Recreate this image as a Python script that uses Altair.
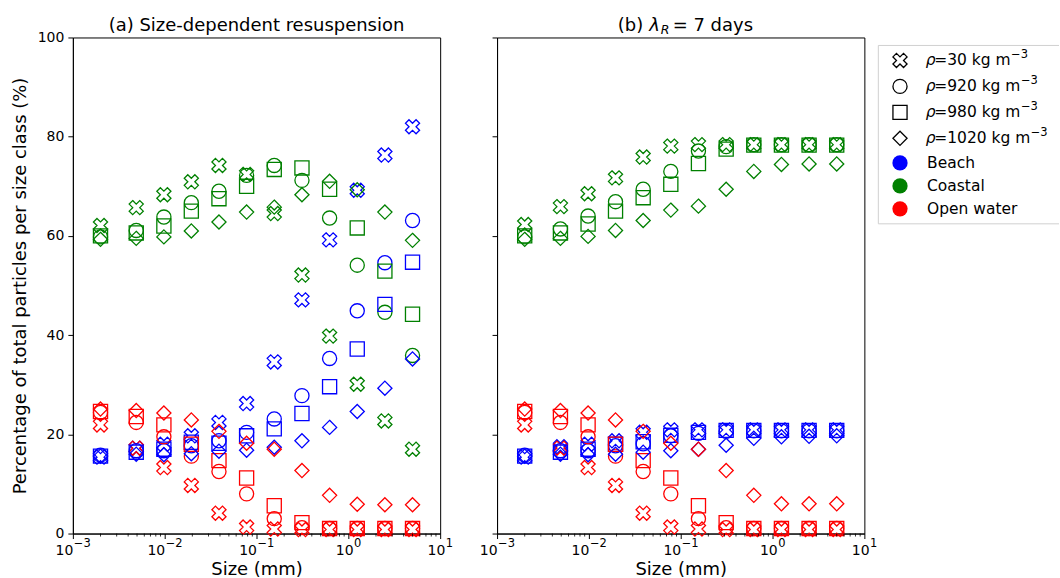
import altair as alt
import pandas as pd

# ---------------- data ----------------
sizes = [0.002, 0.0049, 0.0098, 0.0195, 0.039, 0.078, 0.156, 0.3125, 0.625, 1.25, 2.5, 5.0]
regions = ["Beach", "Coastal", "Open water"]
densities = ["30", "920", "980", "1020"]
region_colors = ["blue", "green", "red"]

# (a) Size-dependent resuspension
a_beach_30 = [15.4, 17.2, 18.0, 19.7, 22.4, 26.2, 34.6, 47.1, 59.2, 69.2, 76.3, 82.0]
a_beach_920 = [15.8, 16.7, 16.7, 17.7, 18.7, 20.4, 23.1, 27.8, 35.3, 44.9, 54.6, 63.1]
a_beach_980 = [15.6, 16.4, 17.0, 18.4, 18.2, 19.7, 21.1, 24.2, 29.6, 37.2, 46.2, 54.7]
a_beach_1020 = [15.6, 16.0, 15.9, 16.1, 16.6, 16.8, 17.4, 18.7, 21.4, 24.6, 29.3, 35.2]
a_coast_30 = [62.1, 65.7, 68.3, 70.9, 74.2, 72.4, 64.5, 52.1, 39.8, 30.1, 22.7, 17.0]
a_coast_920 = [59.8, 61.1, 63.8, 66.7, 69.0, 72.2, 74.2, 71.2, 63.6, 54.1, 44.6, 35.9]
a_coast_980 = [60.0, 60.6, 62.0, 65.0, 67.5, 70.0, 73.4, 73.7, 69.4, 61.6, 52.9, 44.2]
a_coast_1020 = [59.3, 59.5, 59.8, 61.0, 62.8, 64.8, 65.8, 68.3, 71.0, 69.3, 64.8, 59.1]
a_open_30 = [21.9, 17.2, 13.3, 9.7, 4.1, 1.3, 0.9, 0.8, 0.8, 0.8, 0.8, 0.8]
a_open_920 = [24.4, 22.4, 19.5, 15.6, 12.5, 8.0, 3.0, 1.2, 1.0, 1.0, 1.0, 1.0]
a_open_980 = [24.6, 23.6, 21.9, 18.0, 14.7, 11.2, 5.6, 2.2, 1.0, 1.0, 1.0, 1.0]
a_open_1020 = [25.1, 24.8, 24.3, 22.9, 20.6, 18.2, 17.0, 12.7, 7.7, 5.9, 5.8, 5.8]

# (b) lambda_R = 7 days
b_beach_30 = [15.4, 17.5, 18.0, 18.7, 20.4, 20.9, 20.9, 20.9, 20.9, 20.9, 20.9, 20.9]
b_beach_920 = [15.8, 16.7, 16.7, 17.7, 18.1, 19.7, 20.2, 20.6, 20.7, 20.7, 20.7, 20.7]
b_beach_980 = [15.6, 16.4, 17.0, 18.0, 18.5, 19.8, 20.4, 20.8, 20.8, 20.8, 20.8, 20.8]
b_beach_1020 = [15.6, 16.0, 15.9, 16.0, 16.4, 16.7, 17.0, 17.8, 19.2, 19.5, 19.6, 19.7]
b_coast_30 = [62.3, 65.9, 68.5, 71.7, 75.9, 78.1, 78.4, 78.4, 78.4, 78.4, 78.4, 78.4]
b_coast_920 = [59.8, 61.4, 64.0, 66.9, 69.4, 73.0, 77.1, 78.0, 78.4, 78.4, 78.4, 78.4]
b_coast_980 = [60.0, 60.6, 62.4, 65.0, 67.7, 70.4, 74.6, 77.5, 78.3, 78.3, 78.3, 78.3]
b_coast_1020 = [59.3, 59.5, 59.9, 61.1, 63.1, 65.2, 66.0, 69.4, 73.0, 74.4, 74.5, 74.5]
b_open_30 = [21.9, 17.2, 13.3, 9.7, 4.1, 1.3, 0.9, 0.8, 0.8, 0.8, 0.8, 0.8]
b_open_920 = [24.4, 22.4, 19.5, 15.6, 12.5, 8.0, 3.0, 1.2, 1.0, 1.0, 1.0, 1.0]
b_open_980 = [24.6, 23.6, 21.9, 18.0, 14.7, 11.2, 5.6, 2.2, 1.0, 1.0, 1.0, 1.0]
b_open_1020 = [25.1, 24.8, 24.3, 22.9, 20.6, 18.2, 17.0, 12.7, 7.7, 6.0, 6.0, 6.0]

# text pieces
legend_density_text = ["=30 kg m", "=920 kg m", "=980 kg m", "=1020 kg m"]
legend_sup = "\u22123"
title_a_text = "(a) Size-dependent resuspension"
y_title = "Percentage of total particles per size class (%)"
x_title = "Size (mm)"
major = [0.001, 0.01, 0.1, 1, 10]
major_sup = ["\u22123", "\u22122", "\u22121", "0", "1"]
y_ticks = [0, 20, 40, 60, 80, 100]

panel_a = {
    ("30", "Beach"): a_beach_30, ("30", "Coastal"): a_coast_30, ("30", "Open water"): a_open_30,
    ("920", "Beach"): a_beach_920, ("920", "Coastal"): a_coast_920, ("920", "Open water"): a_open_920,
    ("980", "Beach"): a_beach_980, ("980", "Coastal"): a_coast_980, ("980", "Open water"): a_open_980,
    ("1020", "Beach"): a_beach_1020, ("1020", "Coastal"): a_coast_1020, ("1020", "Open water"): a_open_1020,
}
panel_b = {
    ("30", "Beach"): b_beach_30, ("30", "Coastal"): b_coast_30, ("30", "Open water"): b_open_30,
    ("920", "Beach"): b_beach_920, ("920", "Coastal"): b_coast_920, ("920", "Open water"): b_open_920,
    ("980", "Beach"): b_beach_980, ("980", "Coastal"): b_coast_980, ("980", "Open water"): b_open_980,
    ("1020", "Beach"): b_beach_1020, ("1020", "Coastal"): b_coast_1020, ("1020", "Open water"): b_open_1020,
}

records = []
for pkey, table in (("a", panel_a), ("b", panel_b)):
    for (dens, region), vals in table.items():
        for s, v in zip(sizes, vals):
            records.append(dict(panel=pkey, density=dens, region=region, size=s, value=v))
df = pd.DataFrame(records)

tick_df = pd.DataFrame({"size": major, "sup": major_sup,
                        "grp": ["neg" if s.startswith("\u2212") else "pos" for s in major_sup]})
minor = [m * 10.0 ** e for e in range(-3, 1) for m in range(2, 10)]

# ---------------- styling ----------------
FONT = "DejaVu Sans"
W, H = 368, 497
X_PATH = "M-0.5,-1L0,-0.5L0.5,-1L1,-0.5L0.5,0L1,0.5L0.5,1L0,0.5L-0.5,1L-1,0.5L-0.5,0L-1,-0.5Z"
D_PATH = "M0,-1L1,0L0,1L-1,0Z"
shape_range = [X_PATH, "circle", "square", D_PATH]
size_range = [200, 200, 200, 370]
legend_size_range = [210, 210, 230, 470]

xscale = alt.Scale(type="log", domain=[1e-3, 10], nice=False)
yscale = alt.Scale(domain=[0, 100], nice=False)
xaxis = alt.Axis(values=major, labels=False, tickSize=5, titleFontSize=18, titlePadding=22, grid=False)


def txt(**kw):
    base = dict(font=FONT, color="black")
    base.update(kw)
    return base


def panel(key, first):
    d = df[df.panel == key]
    if first:
        yaxis = alt.Axis(values=y_ticks, tickSize=5, labelPadding=4,
                         labelFontSize=14, titleFontSize=18, titlePadding=8, grid=False)
        ytitle = y_title
    else:
        yaxis = alt.Axis(values=y_ticks, tickSize=5, labels=False, grid=False)
        ytitle = ""
    pts = alt.Chart(d).mark_point(filled=False, strokeWidth=1.3, opacity=1).encode(
        x=alt.X("size:Q", scale=xscale, axis=xaxis, title=x_title),
        y=alt.Y("value:Q", scale=yscale, axis=yaxis, title=ytitle),
        color=alt.Color("region:N", scale=alt.Scale(domain=regions, range=region_colors), legend=None),
        shape=alt.Shape("density:N", scale=alt.Scale(domain=densities, range=shape_range), legend=None),
        size=alt.Size("density:N", scale=alt.Scale(domain=densities, range=size_range), legend=None),
    )
    ticks = alt.Chart(pd.DataFrame({"size": minor})).mark_rule(color="black", strokeWidth=0.8).encode(
        x=alt.X("size:Q", scale=xscale, axis=xaxis, title=x_title),
        y=alt.value(H), y2=alt.value(H + 3),
    )
    layers = [pts, ticks]
    # x tick labels: "10" plus a superscript exponent
    for grp, dx10 in (("neg", 0.5), ("pos", 5.2)):
        tb = alt.Chart(tick_df).transform_filter(alt.datum.grp == grp)
        layers.append(tb.mark_text(**txt(text="10", fontSize=14, align="right",
                                         baseline="alphabetic", dx=dx10)).encode(
            x=alt.X("size:Q", scale=xscale, axis=xaxis, title=x_title), y=alt.value(H + 22)))
        layers.append(tb.mark_text(**txt(fontSize=11.5, align="left",
                                         baseline="alphabetic", dx=dx10 + 0.5)).encode(
            x=alt.X("size:Q", scale=xscale, axis=xaxis, title=x_title), y=alt.value(H + 13.7),
            text="sup:N"))
    one = pd.DataFrame({"a": [0]})
    if first:
        layers.append(
            alt.Chart(pd.DataFrame({"t": [title_a_text]})).mark_text(
                **txt(fontSize=18, align="center", baseline="alphabetic")
            ).encode(text="t:N", x=alt.value(W / 2), y=alt.value(-6.7))
        )
    else:
        layers += [
            alt.Chart(one).mark_text(**txt(text="(b)", fontSize=18, align="left",
                                           baseline="alphabetic")).encode(
                x=alt.value(121), y=alt.value(-6.7)),
            alt.Chart(one).mark_text(**txt(text="\u03bb", fontSize=18, fontStyle="italic",
                                           align="left", baseline="alphabetic")).encode(
                x=alt.value(152.5), y=alt.value(-6.7)),
            alt.Chart(one).mark_text(**txt(text="R", fontSize=12.5, fontStyle="italic",
                                           align="left", baseline="alphabetic")).encode(
                x=alt.value(164), y=alt.value(-3.5)),
            alt.Chart(one).mark_text(**txt(text="= 7 days", fontSize=18, align="left",
                                           baseline="alphabetic")).encode(
                x=alt.value(176), y=alt.value(-6.7)),
        ]
    return alt.layer(*layers).properties(width=W, height=H)


left = panel("a", True)
right = panel("b", False)

# ---------------- hand-built legend (view starts at x=922, top at y=36) ----------------
LW = 138
OX = -43          # left edge of the legend frame relative to the view
dens_y = alt.Scale(domain=[0, 3], range=[23, 101])
reg_y = alt.Scale(domain=[0, 2], range=[125.7, 171.7])
dens_df = pd.DataFrame({"row": [0, 1, 2, 3], "density": densities, "rest": legend_density_text,
                        "sup": [legend_sup] * 4})
reg_df = pd.DataFrame({"row": [0, 1, 2], "region": regions})
one = pd.DataFrame({"a": [0]})
box_color = "#d0d0d0"
LFS = 15.5
# advance of "=NN kg m" in DejaVu Sans (units per em / 1000)
rest_em = {"=30 kg m": 4.934, "=920 kg m": 5.570, "=980 kg m": 5.570, "=1020 kg m": 6.206}

leg_layers = [
    alt.Chart(one).mark_rule(color=box_color, strokeWidth=1).encode(
        x=alt.value(OX), x2=alt.value(LW), y=alt.value(8)),
    alt.Chart(one).mark_rule(color=box_color, strokeWidth=1).encode(
        x=alt.value(OX), x2=alt.value(LW), y=alt.value(186.7)),
    alt.Chart(one).mark_rule(color=box_color, strokeWidth=1).encode(
        x=alt.value(OX), y=alt.value(8), y2=alt.value(186.7)),
    alt.Chart(dens_df).mark_point(filled=False, color="black", strokeWidth=1.3, opacity=1).encode(
        x=alt.value(-21.3),
        y=alt.Y("row:Q", scale=dens_y, axis=None),
        shape=alt.Shape("density:N", scale=alt.Scale(domain=densities, range=shape_range), legend=None),
        size=alt.Size("density:N", scale=alt.Scale(domain=densities, range=legend_size_range), legend=None),
    ),
    alt.Chart(dens_df).mark_text(**txt(text="\u03c1", fontSize=LFS, fontStyle="italic",
                                       align="left", baseline="middle")).encode(
        x=alt.value(4.5), y=alt.Y("row:Q", scale=dens_y, axis=None)),
    alt.Chart(dens_df).mark_text(**txt(fontSize=LFS, align="left", baseline="middle")).encode(
        x=alt.value(13), y=alt.Y("row:Q", scale=dens_y, axis=None), text="rest:N"),
]
for i, r in enumerate(legend_density_text):
    leg_layers.append(
        alt.Chart(dens_df).transform_filter(alt.datum.row == i).mark_text(
            **txt(fontSize=11.5, align="left", baseline="alphabetic", dy=-2)).encode(
            x=alt.value(13 + rest_em[r] * LFS + 0.5),
            y=alt.Y("row:Q", scale=dens_y, axis=None), text="sup:N"))
leg_layers += [
    alt.Chart(reg_df).mark_point(filled=True, shape="circle", size=234, opacity=1).encode(
        x=alt.value(-21.3),
        y=alt.Y("row:Q", scale=reg_y, axis=None),
        color=alt.Color("region:N", scale=alt.Scale(domain=regions, range=region_colors), legend=None),
    ),
    alt.Chart(reg_df).mark_text(**txt(fontSize=LFS, align="left", baseline="middle")).encode(
        x=alt.value(5.8), y=alt.Y("row:Q", scale=reg_y, axis=None), text="region:N"),
]

legend = alt.layer(*leg_layers).resolve_scale(y="independent").properties(
    width=LW, height=H, view=alt.ViewBackground(stroke="transparent"))

chart = alt.hconcat(left, right, legend, spacing=57, bounds="flush").properties(
    padding={"left": 10, "top": 15, "right": 0, "bottom": 0},
    background="white",
).configure_view(
    stroke="black", strokeWidth=1
).configure_axis(
    labelFont=FONT, titleFont=FONT, labelColor="black", titleColor="black",
    tickColor="black", domainColor="black", titleFontWeight="normal", tickWidth=1, domainWidth=1,
)

chart.save("out.html", embed_options={"renderer": "svg", "actions": False})
